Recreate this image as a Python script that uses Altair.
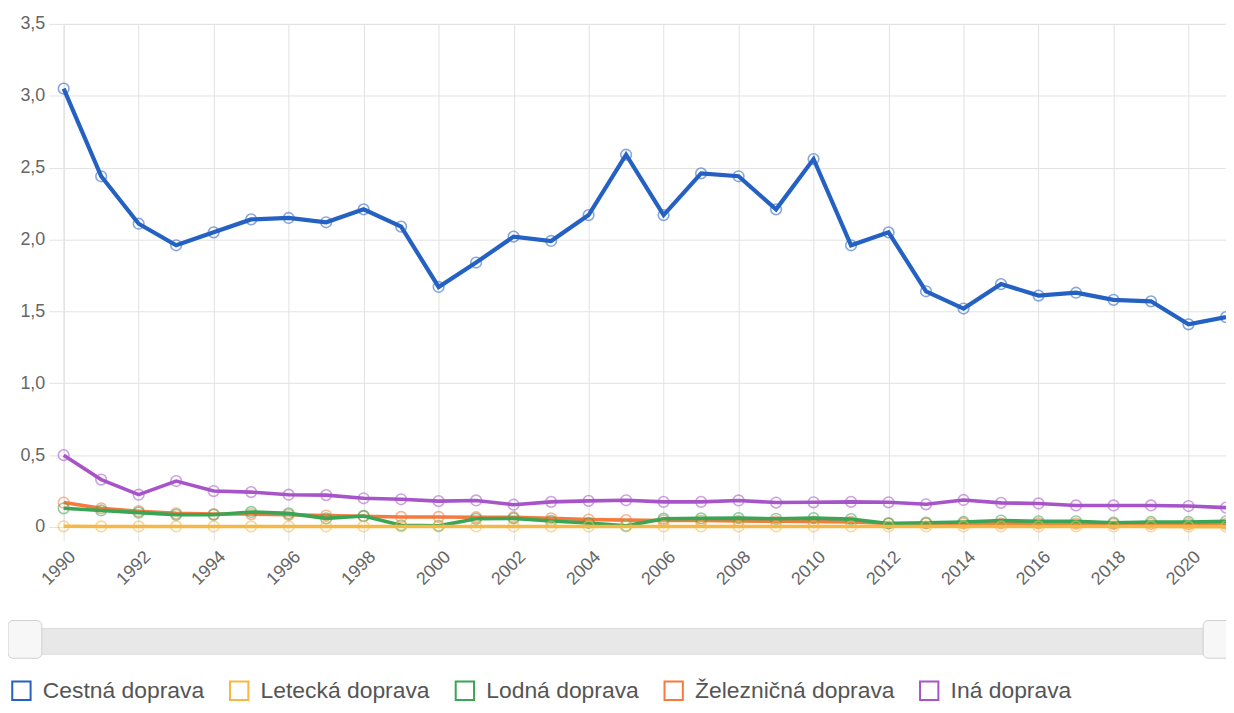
import altair as alt
import pandas as pd

years = list(range(1990, 2022))
names = ["Cestná doprava", "Letecká doprava", "Lodná doprava", "Železničná doprava", "Iná doprava"]
colors = ["#2461c2", "#f6b844", "#3aa655", "#f47a3d", "#a754c9"]

cestna = [3.05, 2.44, 2.11, 1.96, 2.05, 2.14, 2.15, 2.12, 2.21, 2.09, 1.67, 1.84, 2.02, 1.99, 2.17, 2.59,
          2.17, 2.46, 2.44, 2.21, 2.56, 1.96, 2.05, 1.64, 1.52, 1.69, 1.61, 1.63, 1.58, 1.57, 1.41, 1.46]
letecka = [0.005, 0.004, 0.004, 0.004, 0.004, 0.004, 0.004, 0.004, 0.004, 0.004, 0.004, 0.004, 0.004, 0.004, 0.004, 0.004,
           0.004, 0.004, 0.004, 0.004, 0.004, 0.004, 0.004, 0.004, 0.004, 0.004, 0.004, 0.004, 0.004, 0.004, 0.003, 0.003]
lodna = [0.13, 0.115, 0.10, 0.085, 0.085, 0.105, 0.095, 0.06, 0.077, 0.012, 0.008, 0.057, 0.06, 0.042, 0.028, 0.008,
         0.058, 0.06, 0.062, 0.057, 0.062, 0.055, 0.025, 0.03, 0.035, 0.045, 0.04, 0.04, 0.03, 0.035, 0.035, 0.04]
zeleznicna = [0.17, 0.13, 0.11, 0.095, 0.09, 0.09, 0.085, 0.08, 0.075, 0.07, 0.07, 0.068, 0.068, 0.06, 0.052, 0.048,
              0.045, 0.045, 0.042, 0.04, 0.038, 0.035, 0.025, 0.025, 0.025, 0.025, 0.025, 0.024, 0.022, 0.022, 0.02, 0.022]
ina = [0.50, 0.33, 0.225, 0.32, 0.25, 0.243, 0.225, 0.222, 0.20, 0.193, 0.18, 0.185, 0.155, 0.175, 0.182, 0.186,
       0.175, 0.175, 0.185, 0.17, 0.172, 0.175, 0.172, 0.158, 0.188, 0.168, 0.164, 0.15, 0.15, 0.15, 0.146, 0.135]

x_ticks = list(range(1990, 2021, 2))
y_ticks = [0, 0.5, 1.0, 1.5, 2.0, 2.5, 3.0, 3.5]

series = [cestna, letecka, lodna, zeleznicna, ina]
rows = []
for name, vals in zip(names, series):
    for yr, v in zip(years, vals):
        rows.append({"rok": yr, "hodnota": v, "doprava": name})
df = pd.DataFrame(rows)

FONT = "Liberation Sans"
GRID = "#e2e2e2"

x_enc = alt.X("rok:Q",
              scale=alt.Scale(domain=[1990, 2021], nice=False, zero=False),
              axis=alt.Axis(values=x_ticks, format="d", labelAngle=-45, labelAlign="right",
                            labelBaseline="middle", labelFontSize=18, labelColor="#666",
                            labelFont=FONT, grid=True, gridColor=GRID, domain=False,
                            ticks=True, tickSize=14, tickColor=GRID, title=None,
                            labelPadding=13, labelOffset=9))
y_enc = alt.Y("hodnota:Q",
              scale=alt.Scale(domain=[0, 3.5], nice=False),
              axis=alt.Axis(values=y_ticks,
                            labelExpr="datum.value == 0 ? '0' : replace(format(datum.value, '.1f'), '.', ',')",
                            labelFontSize=18, labelColor="#666", labelFont=FONT,
                            tickSize=15, tickColor=GRID, gridColor=GRID, domain=False,
                            title=None, labelPadding=4))
color_enc = alt.Color("doprava:N",
                      scale=alt.Scale(domain=names, range=colors),
                      legend=alt.Legend(orient="none", legendX=-54, legendY=659,
                                        direction="horizontal", title=None,
                                        symbolType="square", symbolSize=340,
                                        symbolStrokeWidth=2, symbolFillColor="white",
                                        symbolOpacity=1,
                                        labelFontSize=23, labelColor="#555", labelFont=FONT,
                                        labelOffset=10, columnPadding=21, labelLimit=400))

base = alt.Chart(df)
layers = []
for name in reversed(names):
    sub = base.transform_filter(alt.datum.doprava == name)
    lw = 4.2 if name == names[0] else 3.6
    layers.append(sub.mark_line(strokeWidth=lw).encode(x=x_enc, y=y_enc, color=color_enc))
    layers.append(sub.mark_point(filled=False, size=115, strokeWidth=1.6, opacity=0.55)
                  .encode(x=x_enc, y=y_enc, color=color_enc))

deco = alt.Chart(pd.DataFrame({"k": [0]}))
track = deco.mark_rect(color="#e8e8e8", stroke="#dcdcdc", strokeWidth=1).encode(
    x=alt.value(-56), x2=alt.value(1180), y=alt.value(608), y2=alt.value(634))
handle_l = deco.mark_rect(color="#f7f7f7", stroke="#cfcfcf", strokeWidth=1, cornerRadius=5).encode(
    x=alt.value(-56), x2=alt.value(-22), y=alt.value(600), y2=alt.value(638))
handle_r = deco.mark_rect(color="#f7f7f7", stroke="#cfcfcf", strokeWidth=1, cornerRadius=5).encode(
    x=alt.value(1146), x2=alt.value(1182), y=alt.value(600), y2=alt.value(638))

chart = alt.layer(*layers, track, handle_l, handle_r).properties(
    width=1169, height=506,
    autosize=alt.AutoSizeParams(type="none"),
    padding={"left": 56, "top": 14, "right": 0, "bottom": 176},
).configure_view(stroke=None).configure(font=FONT)

chart.save("out.html", embed_options={"renderer": "svg", "actions": False})
